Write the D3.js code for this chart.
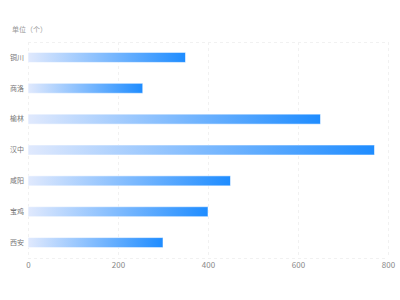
<!DOCTYPE html>
<html><head><meta charset="utf-8">
<script src="https://cdn.jsdelivr.net/npm/d3@7"></script>
<style>body{margin:0;background:#fff}svg{display:block}</style>
</head><body>
<svg id="c" width="400" height="300"></svg>
<script>
const categories = ["铜川","商洛","榆林","汉中","咸阳","宝鸡","西安"];
const values = [350, 255, 650, 770, 450, 400, 300];
const xTicks = [0, 200, 400, 600, 800];
const unitLabel = "单位（个）";

(function(){
const svg = d3.select("#c");
const font = "'Noto Sans CJK SC', 'Noto Sans', sans-serif";
const mL = 28, mR = 388, mT = 42, mB = 258;

const x = d3.scaleLinear().domain([0, 800]).range([mL, mR]);
const y = d3.scaleBand().domain(categories).range([mT, mB]);

const defs = svg.append("defs");
const grad = defs.append("linearGradient").attr("id","g").attr("x1","0").attr("x2","1").attr("y1","0").attr("y2","0");
grad.append("stop").attr("offset","0%").attr("stop-color","#e0e9fd");
grad.append("stop").attr("offset","100%").attr("stop-color","#1e8cff");

// grid
const grid = svg.append("g").attr("stroke","#f1f1f1").attr("stroke-dasharray","3,3").attr("stroke-width",1);
xTicks.forEach(t => {
  grid.append("line").attr("x1", Math.round(x(t))+0.5).attr("x2", Math.round(x(t))+0.5).attr("y1", mT).attr("y2", mB);
});
grid.append("line").attr("x1", mL).attr("x2", mR).attr("y1", mT+0.5).attr("y2", mT+0.5);
grid.append("line").attr("x1", mL).attr("x2", mR).attr("y1", mB+0.5).attr("y2", mB+0.5);

// bars
const bh = 10;
svg.append("g").selectAll("rect").data(values).join("rect")
  .attr("x", x(0))
  .attr("y", (d,i) => y(categories[i]) + y.bandwidth()/2 - bh/2)
  .attr("width", d => x(d) - x(0))
  .attr("height", bh)
  .attr("fill", "url(#g)")
  .attr("stroke", "rgba(255,255,255,0.55)")
  .attr("stroke-width", 1);

// x axis
const xAxis = d3.axisBottom(x).tickValues(xTicks).tickSize(0).tickPadding(0);
const gx = svg.append("g").attr("transform", `translate(0,${mB+7})`).call(xAxis);
gx.select(".domain").remove();
gx.selectAll("text").attr("fill","#888").attr("font-size", 8).attr("font-family", font).attr("dy","0.35em").attr("y",0);

// y axis
const yAxis = d3.axisLeft(y).tickSize(0).tickPadding(0);
const gy = svg.append("g").attr("transform", `translate(${mL-4},0)`).call(yAxis);
gy.select(".domain").remove();
gy.selectAll("text").attr("fill","#777").attr("font-size", 7).attr("font-family", font);

svg.append("text").attr("x", 12).attr("y", 32).attr("fill","#999").attr("font-size", 7).attr("font-family", font).text(unitLabel);
})();
</script>
</body></html>
